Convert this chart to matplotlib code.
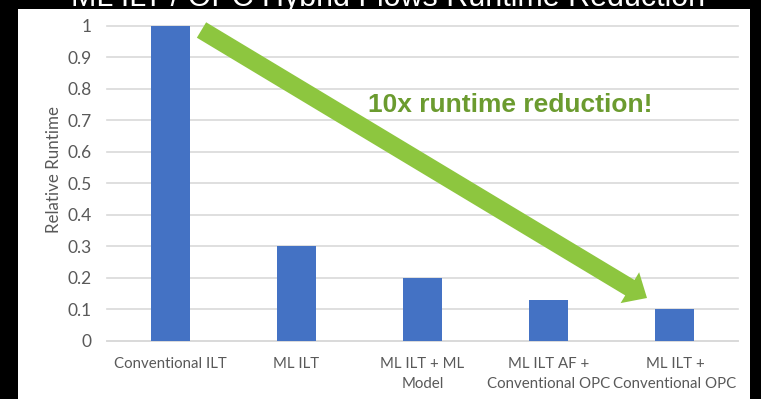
import matplotlib
matplotlib.use("Agg")
import matplotlib.pyplot as plt
from matplotlib.patches import Rectangle, FancyArrow

# relative runtime of each flow (conventional ILT = 1)
flows = ["Conventional ILT", "ML ILT", "ML ILT + ML\nModel",
         "ML ILT AF +\nConventional OPC", "ML ILT +\nConventional OPC"]
runtime = [1.0, 0.3, 0.2, 0.13, 0.1]
yticks = [0, 0.1, 0.2, 0.3, 0.4, 0.5, 0.6, 0.7, 0.8, 0.9, 1.0]
ytick_labels = ["0", "0.1", "0.2", "0.3", "0.4", "0.5", "0.6", "0.7", "0.8", "0.9", "1"]

W, H, DPI = 761, 399, 100
fig = plt.figure(figsize=(W / DPI, H / DPI), dpi=DPI)
fig.patch.set_facecolor("black")

# white slide panel behind the chart
fig.patches.append(Rectangle((18 / W, 0), (750 - 18) / W, (H - 9) / H,
                             transform=fig.transFigure, facecolor="white",
                             edgecolor="none", zorder=-5))

fig.text(388 / W, 1 - 6 / H, "ML ILT / OPC Hybrid Flows Runtime Reduction",
         color="white", fontsize=22, family="Liberation Sans",
         ha="center", va="baseline", zorder=-1)

ax = fig.add_axes([107 / W, (H - 340.7) / H, (738 - 107) / W, (340.7 - 25.7) / H])
ax.patch.set_alpha(0)
grey = "#595959"
ax.bar(range(len(flows)), runtime, width=0.31, color="#4472C4", zorder=3)
ax.set_xlim(-0.5, len(flows) - 0.5)
ax.set_ylim(0, 1)
ax.set_yticks(yticks)
ax.set_yticklabels(ytick_labels)
ax.set_xticks(range(len(flows)))
ax.set_xticklabels(flows, linespacing=1.55)
for s in ["top", "right", "left"]:
    ax.spines[s].set_visible(False)
ax.spines["bottom"].set_color("#D9D9D9")
ax.spines["bottom"].set_linewidth(1.2)
ax.grid(axis="y", color="#D9D9D9", linewidth=1.2, zorder=0)
for line in ax.get_ygridlines():
    line.set_clip_on(False)
ax.tick_params(axis="both", length=0, colors=grey)
ax.tick_params(axis="y", pad=11, labelsize=12.5)
ax.tick_params(axis="x", pad=11.5, labelsize=10.8)
for lab in ax.get_xticklabels() + ax.get_yticklabels():
    lab.set_family("Lato")
ax.set_ylabel("Relative Runtime", color=grey, fontsize=12.2, family="Lato")
ax.yaxis.set_label_coords(-0.071, 0.545)

# big green arrow from the first bar down to the last
x0, y0 = 201.5, 30
x1, y1 = 647, 298
fig.patches.append(FancyArrow(x0 / DPI, (H - y0) / DPI, (x1 - x0) / DPI, -(y1 - y0) / DPI,
                              width=0.18, head_width=0.36, head_length=0.2,
                              length_includes_head=True, facecolor="#8DC63F",
                              edgecolor="none", transform=fig.dpi_scale_trans, zorder=5))

fig.text(368 / W, 1 - 105 / H, "10x runtime reduction!", color="#6B9B2F",
         fontsize=19, fontweight="bold", family="Liberation Sans",
         ha="left", va="center", zorder=6)

fig.savefig("out.png", dpi=DPI, facecolor=fig.get_facecolor())
